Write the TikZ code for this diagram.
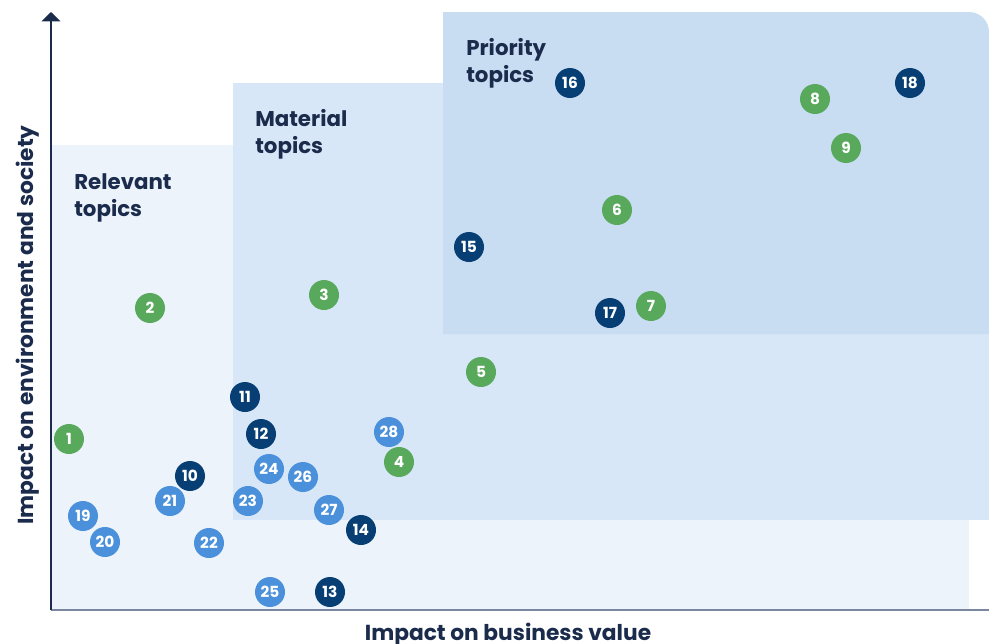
\documentclass[tikz,border=0pt]{standalone}
\usepackage{fontspec}
\setmainfont{Poppins}
\usetikzlibrary{arrows.meta}
\definecolor{relbg}{HTML}{ECF3FB}
\definecolor{matbg}{HTML}{D8E7F7}
\definecolor{pribg}{HTML}{C8DCF2}
\definecolor{navytext}{HTML}{1A2B4C}
\definecolor{axisgray}{HTML}{7A879E}
\definecolor{tgreen}{HTML}{58A95C}
\definecolor{tnavy}{HTML}{073F75}
\definecolor{tblue}{HTML}{4A90DB}
\tikzset{
  topic/.style={circle, minimum size=22.5pt, inner sep=0pt, text=white,
    font=\bfseries\fontsize{11.5}{11.5}\selectfont},
  tg/.style={topic, fill=tgreen},
  tn/.style={topic, fill=tnavy},
  tb/.style={topic, fill=tblue},
  grouplabel/.style={anchor=base west, inner sep=0pt, align=left, text=navytext,
    font=\bfseries\fontsize{16}{20.25}\selectfont},
  axislabel/.style={inner sep=0pt, text=navytext,
    font=\bfseries\fontsize{16.3}{18}\selectfont}
}
\begin{document}
\begin{tikzpicture}[x=0.75pt,y=-0.75pt]
\useasboundingbox (0,0) rectangle (989,643);
% regions
\fill[relbg] (51,145) rectangle (969,610);
\fill[matbg] (233,83) rectangle (989,520);
\fill[pribg] (443,334) -- (443,12) -- (969,12) arc[start angle=-90, end angle=0, radius=20] -- (989,334) -- cycle;
% axes
\coordinate (origin) at (51,610);
\coordinate (ytop) at (51,12);
\coordinate (xend) at (989,610);
\draw[axisgray, line width=1.5pt] (origin) -- (xend);
\draw[navytext, line width=1pt, -{Triangle[width=14pt,length=7pt]}] (origin) -- (ytop);
% group labels
\node[grouplabel] (rel) at (74,216) {Relevant\\topics};
\node[grouplabel] (mat) at (255,153) {Material\\topics};
\node[grouplabel] (pri) at (466,82) {Priority\\topics};
% axis labels
\node[axislabel, rotate=90, anchor=base] (ylab) at (33,325) {Impact on environment and society};
\node[axislabel, anchor=base] (xlab) at (508,640) {Impact on business value};
% topics
\node[tg] (t1) at (69,439) {1};
\node[tg] (t2) at (150,308) {2};
\node[tg] (t3) at (324,295) {3};
\node[tg] (t4) at (399,462) {4};
\node[tg] (t5) at (481,372) {5};
\node[tg] (t6) at (617,210) {6};
\node[tg] (t7) at (651,306) {7};
\node[tg] (t8) at (815,99) {8};
\node[tg] (t9) at (846,148) {9};
\node[tn] (t10) at (190,476) {10};
\node[tn] (t11) at (245,397) {11};
\node[tn] (t12) at (261,434) {12};
\node[tn] (t13) at (330,592) {13};
\node[tn] (t14) at (361,530) {14};
\node[tn] (t15) at (469,247) {15};
\node[tn] (t16) at (570,83) {16};
\node[tn] (t17) at (610,313) {17};
\node[tn] (t18) at (910,83) {18};
\node[tb] (t19) at (83,516) {19};
\node[tb] (t20) at (105,542) {20};
\node[tb] (t21) at (170,501) {21};
\node[tb] (t22) at (209,543) {22};
\node[tb] (t23) at (248,501) {23};
\node[tb] (t24) at (269,469) {24};
\node[tb] (t25) at (270,592) {25};
\node[tb] (t26) at (303,477) {26};
\node[tb] (t27) at (329,510) {27};
\node[tb] (t28) at (389,432) {28};
\end{tikzpicture}
\end{document}
